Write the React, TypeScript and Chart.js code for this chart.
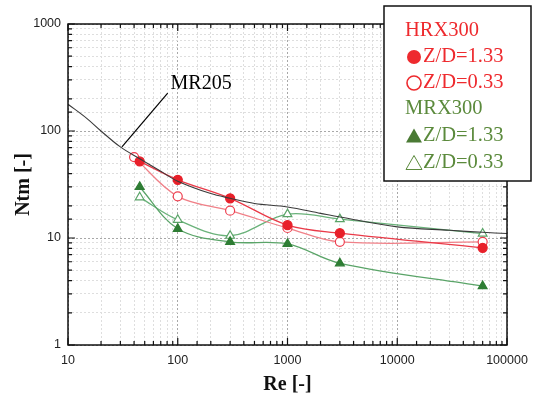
import React, { useEffect, useRef } from 'react';
import { Chart, registerables } from 'chart.js';
Chart.register(...registerables);

// ---- data ----
const reHrxFilled = [45, 100, 300, 1000, 3000, 60000];
const ntmHrxFilled = [52, 35, 23.5, 13.2, 11.1, 8.1];
const reHrxOpen = [40, 100, 300, 1000, 3000, 60000];
const ntmHrxOpen = [57, 24.5, 18, 12.4, 9.2, 9.2];
const reMrx = [45, 100, 300, 1000, 3000, 60000];
const ntmMrxFilled = [30, 12.2, 9.2, 8.8, 5.8, 3.55];
const ntmMrxOpen = [24, 14.8, 10.5, 16.7, 15, 11];
const reMr205 = [10, 15, 20, 30, 45, 70, 100, 200, 300, 500, 1000, 2000, 3000, 10000, 30000, 60000, 100000];
const ntmMr205 = [178, 130, 100, 71, 55, 42, 34, 26, 23.5, 21, 19.5, 17, 15.7, 12.7, 11.8, 11.3, 11];
const xDecades = [10, 100, 1000, 10000, 100000];
const yDecades = [1, 10, 100, 1000];

const legendRows = [
  { text: 'HRX300', sym: '', color: '#ee2a2e' },
  { text: 'Z/D=1.33', sym: 'circleFilled', color: '#ee2a2e' },
  { text: 'Z/D=0.33', sym: 'circleOpen', color: '#ee2a2e' },
  { text: 'MRX300', sym: '', color: '#5b8a3c' },
  { text: 'Z/D=1.33', sym: 'triFilled', color: '#5b8a3c' },
  { text: 'Z/D=0.33', sym: 'triOpen', color: '#5b8a3c' },
];

const annotationLabel = 'MR205';
const annotationText = { re: 86, ntm: 275 };
const annotationFrom = { re: 81, ntm: 226 };
const annotationTo = { re: 31, ntm: 71 };

const pts = (xs: number[], ys: number[]) => xs.map((x, i) => ({ x, y: ys[i] }));
const isDecade = (v: number) => Math.abs(Math.log10(v) - Math.round(Math.log10(v))) < 1e-9;

const decorPlugin = {
  id: 'decor',
  afterDraw(chart: any) {
    const { ctx, chartArea: a, scales } = chart;
    const xs = scales.x, ys = scales.y;
    ctx.save();
    // frame
    ctx.strokeStyle = '#111';
    ctx.lineWidth = 1.5;
    ctx.setLineDash([]);
    ctx.strokeRect(a.left, a.top, a.right - a.left, a.bottom - a.top);
    // inward ticks
    ctx.lineWidth = 1.2;
    ctx.beginPath();
    xs.ticks.forEach((t: any) => {
      const p = xs.getPixelForValue(t.value);
      const len = isDecade(t.value) ? 7 : 4;
      ctx.moveTo(p, a.bottom); ctx.lineTo(p, a.bottom - len);
      ctx.moveTo(p, a.top); ctx.lineTo(p, a.top + len);
    });
    ys.ticks.forEach((t: any) => {
      const p = ys.getPixelForValue(t.value);
      const len = isDecade(t.value) ? 7 : 4;
      ctx.moveTo(a.left, p); ctx.lineTo(a.left + len, p);
      ctx.moveTo(a.right, p); ctx.lineTo(a.right - len, p);
    });
    ctx.stroke();

    // annotation
    ctx.strokeStyle = '#000';
    ctx.lineWidth = 1.2;
    ctx.beginPath();
    ctx.moveTo(xs.getPixelForValue(annotationFrom.re), ys.getPixelForValue(annotationFrom.ntm));
    ctx.lineTo(xs.getPixelForValue(annotationTo.re), ys.getPixelForValue(annotationTo.ntm));
    ctx.stroke();
    ctx.fillStyle = '#000';
    ctx.font = '20px "Liberation Serif", serif';
    ctx.textBaseline = 'middle';
    ctx.textAlign = 'left';
    ctx.fillText(annotationLabel, xs.getPixelForValue(annotationText.re), ys.getPixelForValue(annotationText.ntm));

    // axis titles
    ctx.font = 'bold 20px "Liberation Serif", serif';
    ctx.textAlign = 'center';
    ctx.fillStyle = '#111';
    ctx.fillText('Re [-]', (a.left + a.right) / 2, 385);
    ctx.save();
    ctx.translate(24, (a.top + a.bottom) / 2);
    ctx.rotate(-Math.PI / 2);
    ctx.fillText('Ntm [-]', 0, 0);
    ctx.restore();

    // legend box
    const bx = 384, by = 6, bw = 147, bh = 175;
    ctx.fillStyle = '#fff';
    ctx.fillRect(bx, by, bw, bh);
    ctx.strokeStyle = '#111';
    ctx.lineWidth = 1.5;
    ctx.strokeRect(bx, by, bw, bh);
    ctx.font = '20.5px "Liberation Serif", serif';
    ctx.textAlign = 'left';
    ctx.textBaseline = 'middle';
    const rowY = [31, 57, 83, 109, 136, 163];
    legendRows.forEach((r, i) => {
      const y = rowY[i];
      ctx.fillStyle = r.color;
      ctx.strokeStyle = r.color;
      if (!r.sym) {
        ctx.fillText(r.text, 405, y);
        return;
      }
      const cx = 414;
      ctx.lineWidth = 1.6;
      if (r.sym === 'circleFilled' || r.sym === 'circleOpen') {
        ctx.beginPath();
        ctx.arc(cx, y, 7, 0, Math.PI * 2);
        if (r.sym === 'circleFilled') ctx.fill(); else ctx.stroke();
      } else {
        ctx.beginPath();
        ctx.moveTo(cx, y - 7.5);
        ctx.lineTo(cx + 8, y + 6.5);
        ctx.lineTo(cx - 8, y + 6.5);
        ctx.closePath();
        if (r.sym === 'triFilled') { ctx.fillStyle = '#4a7a34'; ctx.fill(); } else { ctx.lineWidth = 1; ctx.stroke(); }
        ctx.fillStyle = r.color;
      }
      ctx.fillText(r.text, 423, y);
    });
    ctx.restore();
  },
};

export default function App() {
  const ref = useRef<HTMLCanvasElement>(null);
  useEffect(() => {
    if (!ref.current) return;
    const chart = new Chart(ref.current, {
      type: 'line',
      data: {
        datasets: [
          {
            label: 'MR205',
            data: pts(reMr205, ntmMr205),
            borderColor: '#3a3a3a',
            borderWidth: 1.1,
            pointRadius: 0,
            tension: 0.35,
            fill: false,
          },
          {
            label: 'HRX300 Z/D=1.33',
            data: pts(reHrxFilled, ntmHrxFilled),
            borderColor: '#ea3a48',
            borderWidth: 1.3,
            pointRadius: 4.5,
            pointStyle: 'circle',
            pointBackgroundColor: '#e8202a',
            pointBorderColor: '#e8202a',
            tension: 0.35,
          },
          {
            label: 'HRX300 Z/D=0.33',
            data: pts(reHrxOpen, ntmHrxOpen),
            borderColor: '#f08088',
            borderWidth: 1.3,
            pointRadius: 4.5,
            pointStyle: 'circle',
            pointBackgroundColor: '#ffffff',
            pointBorderColor: '#ee4050',
            pointBorderWidth: 1.2,
            tension: 0.35,
          },
          {
            label: 'MRX300 Z/D=1.33',
            data: pts(reMrx, ntmMrxFilled),
            borderColor: '#5aa468',
            borderWidth: 1.3,
            pointRadius: 5,
            pointStyle: 'triangle',
            pointBackgroundColor: '#2e7d34',
            pointBorderColor: '#2e7d34',
            tension: 0.35,
          },
          {
            label: 'MRX300 Z/D=0.33',
            data: pts(reMrx, ntmMrxOpen),
            borderColor: '#6ab27a',
            borderWidth: 1.3,
            pointRadius: 5,
            pointStyle: 'triangle',
            pointBackgroundColor: '#ffffff',
            pointBorderColor: '#5aa468',
            pointBorderWidth: 1.2,
            tension: 0.35,
          },
        ],
      },
      options: {
        animation: false,
        responsive: true,
        maintainAspectRatio: false,
        layout: { padding: { top: 24, right: 29, left: 0, bottom: 0 } },
        plugins: { legend: { display: false }, tooltip: { enabled: false } },
        scales: {
          x: {
            type: 'logarithmic',
            min: 10,
            max: 100000,
            afterFit: (s: any) => { s.height = 51; },
            border: { display: false, dash: [2, 2] },
            grid: {
              drawTicks: false,
              color: (c: any) => (c.tick && isDecade(c.tick.value) ? '#a8a8a8' : '#dedede'),
              lineWidth: 1,
            },
            ticks: {
              autoSkip: false,
              maxRotation: 0,
              padding: 8,
              color: '#222',
              font: { family: '"Liberation Sans", Arial, sans-serif', size: 12.5 },
              callback: (v: any) => (xDecades.includes(Number(v)) ? String(v) : ''),
            },
          },
          y: {
            type: 'logarithmic',
            min: 1,
            max: 1000,
            afterFit: (s: any) => { s.width = 68; },
            border: { display: false, dash: [2, 2] },
            grid: {
              drawTicks: false,
              color: (c: any) => (c.tick && isDecade(c.tick.value) ? '#a8a8a8' : '#dedede'),
              lineWidth: 1,
            },
            ticks: {
              autoSkip: false,
              padding: 7,
              color: '#222',
              font: { family: '"Liberation Sans", Arial, sans-serif', size: 12.5 },
              callback: (v: any) => (yDecades.includes(Number(v)) ? String(v) : ''),
            },
          },
        },
      },
      plugins: [decorPlugin],
    });
    return () => chart.destroy();
  }, []);
  return (
    <div style={{ position: 'fixed', left: 0, top: 0, width: 536, height: 396, background: '#fff' }}>
      <canvas ref={ref} />
    </div>
  );
}
